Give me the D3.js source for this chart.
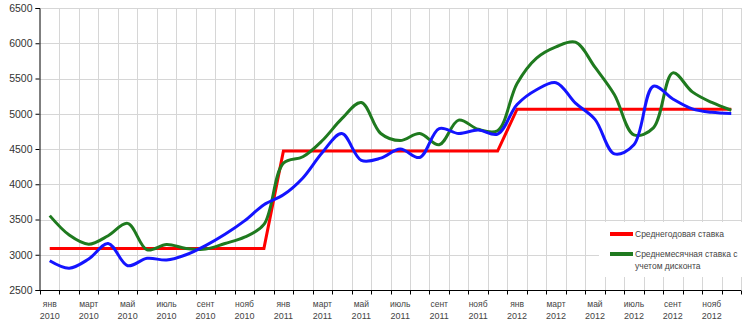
<!DOCTYPE html>
<html>
<head>
<meta charset="utf-8">
<script src="https://cdn.jsdelivr.net/npm/d3@7"></script>
<style>
  html, body { margin: 0; padding: 0; background: #fff; }
  svg { display: block; font-family: "Liberation Sans", Arial, sans-serif; }
</style>
</head>
<body>
<svg id="chart" width="750" height="326"></svg>
<script>
// ---- data ----
const monthNames = ["янв","фев","март","апр","май","июнь","июль","авг","сент","окт","нояб","дек"];
const years = [2010, 2011, 2012];
const categories = years.flatMap(y => monthNames.map(m => ({ m, y })));

const annualRate = [
  3090,3090,3090,3090,3090,3090,3090,3090,3090,3090,3090,3090,
  4470,4470,4470,4470,4470,4470,4470,4470,4470,4470,4470,4470,
  5065,5065,5065,5065,5065,5065,5065,5065,5065,5065,5065,5065
];
const monthlyDiscount = [
  3555,3280,3150,3270,3445,3070,3145,3090,3080,3160,3250,3430,
  4300,4390,4620,4930,5160,4720,4620,4720,4560,4910,4780,4760,
  5430,5790,5950,6015,5660,5270,4700,4800,5580,5310,5160,5050
];
const monthlyRate = [
  2915,2810,2940,3160,2845,2950,2925,3000,3130,3290,3480,3710,
  3850,4090,4450,4720,4340,4370,4500,4380,4790,4720,4770,4710,
  5130,5340,5440,5150,4920,4430,4560,5390,5210,5070,5020,5005
];
const yTicks = [2500,3000,3500,4000,4500,5000,5500,6000,6500];
const legendLabels = ["Среднегодовая ставка", ["Среднемесячная ставка с", "учетом дисконта"]];

// ---- layout ----
(function () {
const svg = d3.select("#chart");
const mLeft = 40, mRight = 741, mTop = 8, mBottom = 290;

const x = d3.scaleBand().domain(d3.range(categories.length)).range([mLeft, mRight]).padding(0);
const cx = i => x(i) + x.bandwidth() / 2;
const edge = i => i < categories.length ? x(i) : mRight;
const y = d3.scaleLinear().domain([2500, 6500]).range([mBottom, mTop]);

// gridlines
const grid = svg.append("g").attr("stroke", "#d6d6d6").attr("stroke-width", 1);
grid.selectAll("line.h").data(yTicks.slice(1)).join("line")
  .attr("x1", mLeft).attr("x2", mRight)
  .attr("y1", d => Math.round(y(d)) + 0.5).attr("y2", d => Math.round(y(d)) + 0.5);
grid.selectAll("line.v").data(d3.range(1, categories.length + 1)).join("line")
  .attr("x1", i => Math.round(edge(i)) + 0.5).attr("x2", i => Math.round(edge(i)) + 0.5)
  .attr("y1", mTop).attr("y2", mBottom);

// y axis
const yAxis = svg.append("g").attr("transform", `translate(${mLeft - 0.5},0)`)
  .call(d3.axisLeft(y).tickValues(yTicks).tickSize(4).tickFormat(d3.format("d")));
yAxis.select(".domain").attr("stroke", "#000");
yAxis.selectAll(".tick line").attr("stroke", "#000");
yAxis.selectAll("text").attr("font-size", 10.5).attr("fill", "#333").attr("x", -7);

// x axis
const xAxis = svg.append("g").attr("transform", `translate(0,${mBottom + 0.5})`);
xAxis.append("line").attr("x1", mLeft - 1).attr("x2", mRight).attr("stroke", "#000");
xAxis.selectAll("line.t").data(d3.range(0, categories.length + 1)).join("line")
  .attr("x1", i => Math.round(edge(i)) + 0.5).attr("x2", i => Math.round(edge(i)) + 0.5)
  .attr("y1", 0).attr("y2", 4).attr("stroke", "#000");
const lbl = xAxis.selectAll("g.lbl").data(categories.map((c, i) => ({ ...c, i })).filter(d => d.i % 2 === 0)).join("g")
  .attr("transform", d => `translate(${cx(d.i)},0)`);
lbl.append("text").attr("y", 16).attr("text-anchor", "middle").attr("font-size", 8.5).attr("fill", "#444").text(d => d.m);
lbl.append("text").attr("y", 28).attr("text-anchor", "middle").attr("font-size", 9).attr("fill", "#444").text(d => d.y);

// lines
const straight = d3.line().x((d, i) => cx(i)).y(d => y(d));
const smooth = d3.line().x((d, i) => cx(i)).y(d => y(d)).curve(d3.curveCatmullRom.alpha(0.5));

svg.append("path").datum(annualRate).attr("d", straight)
  .attr("fill", "none").attr("stroke", "#ff0000").attr("stroke-width", 3);
svg.append("path").datum(monthlyDiscount).attr("d", smooth)
  .attr("fill", "none").attr("stroke", "#1f7a1f").attr("stroke-width", 3);
svg.append("path").datum(monthlyRate).attr("d", smooth)
  .attr("fill", "none").attr("stroke", "#1414ff").attr("stroke-width", 3);

// legend
const lg = svg.append("g");
lg.append("rect").attr("x", 599).attr("y", 222).attr("width", 151).attr("height", 55).attr("fill", "#fff");
const entries = [{ c: "#ff0000", t: legendLabels[0], yy: 234 }, { c: "#1f7a1f", t: legendLabels[1], yy: 254 }];
entries.forEach(e => {
  lg.append("line").attr("x1", 610).attr("x2", 633).attr("y1", e.yy).attr("y2", e.yy)
    .attr("stroke", e.c).attr("stroke-width", 4);
  const lines = Array.isArray(e.t) ? e.t : [e.t];
  lines.forEach((t, k) => {
    lg.append("text").attr("x", 635).attr("y", e.yy + 3 + k * 12).attr("font-size", 8.5)
      .attr("fill", "#444").text(t);
  });
});
})();
</script>
</body>
</html>
